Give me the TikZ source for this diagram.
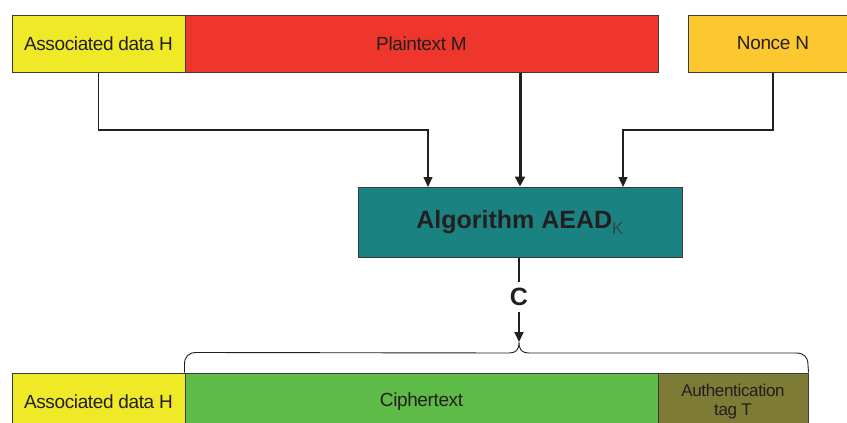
\documentclass[tikz,border=0pt]{standalone}
\usepackage{fontspec}
\setmainfont{Liberation Sans}
\usetikzlibrary{arrows.meta,calc}
\definecolor{cyel}{HTML}{EFE928}
\definecolor{cred}{HTML}{EE362C}
\definecolor{corg}{HTML}{FDC82F}
\definecolor{cteal}{HTML}{1B8282}
\definecolor{cgreen}{HTML}{5EBB47}
\definecolor{colive}{HTML}{7D7B35}
\definecolor{cline}{HTML}{231F20}
\definecolor{cbord}{HTML}{3A3A3A}
\begin{document}
\begin{tikzpicture}[x=1pt,y=-1pt,
  box/.style={draw=cbord, line width=1pt, rectangle, inner sep=0pt, text=cline,
    font=\fontsize{19}{21}\selectfont\addfontfeatures{LetterSpace=-2}, align=center},
  conn/.style={draw=cline, line width=1.2pt, -{Triangle[length=10pt,width=9pt]}},
  thick conn/.style={draw=cline, line width=3pt, -{Triangle[length=10pt,width=10pt]}}]
\useasboundingbox (0,0) rectangle (847,423);
% top row
\node[box, fill=cyel, minimum width=173pt, minimum height=57pt] (ad) at (98.5,43.5) {Associated data H};
\node[box, fill=cred, minimum width=473pt, minimum height=57pt] (pt) at (421.5,43.5) {Plaintext M};
\node[box, fill=corg, minimum width=170pt, minimum height=57pt] (nn) at (773,43.5) {Nonce N};
% algorithm
\node[box, fill=cteal, minimum width=324pt, minimum height=70pt,
  font=\fontsize{25}{28}\selectfont\bfseries] (alg) at (520,222)
  {Algorithm AEAD\raisebox{-6pt}{\fontsize{17}{17}\selectfont\mdseries\color{cbord!85!cteal}K}};
% connectors into algorithm
\coordinate (inH) at (428,187);
\coordinate (inN) at (623,187);
\coordinate (jH) at (428,130);
\coordinate (jN) at (623,130);
\draw[conn] (ad.south) |- (jH) -- (inH);
\draw[conn] (nn.south) |- (jN) -- (inN);
\draw[thick conn] (pt.south -| alg.north) -- (alg.north);
% output C
\node[font=\fontsize{25}{28}\selectfont\bfseries, text=cline, inner sep=0pt, minimum height=30pt] (C) at (519,297) {C};
\coordinate (tip) at (519,342);
\draw[line width=1.8pt, cline] (alg.south -| C.north) -- (C.north);
\draw[conn, line width=1.8pt] (C.south) -- (tip);
% bottom row
\node[box, fill=cyel, minimum width=173pt, minimum height=57pt] (bad) at (98.5,401.5) {Associated data H};
\node[box, fill=cgreen, minimum width=473pt, minimum height=57pt] (ct) at (421.5,401.5) {Ciphertext};
\node[box, fill=colive, minimum width=150pt, minimum height=57pt,
  font=\fontsize{17}{19}\selectfont\addfontfeatures{LetterSpace=-2}] (tag) at (733,401.5) {Authentication\\tag T};
% brace
\draw[cline, line width=0.9pt] (ct.north west) -- ++(0,-8)
  .. controls ++(0,-8) and ++(-8,0) .. ++(12,-12) -- (509,353)
  .. controls (516,353) and (519,350) .. (tip)
  .. controls (519,350) and (522,353) .. (529,353) -- (796,353)
  .. controls (804,353) and (808,357) .. (808,365) -- (tag.north east);
\end{tikzpicture}
\end{document}
